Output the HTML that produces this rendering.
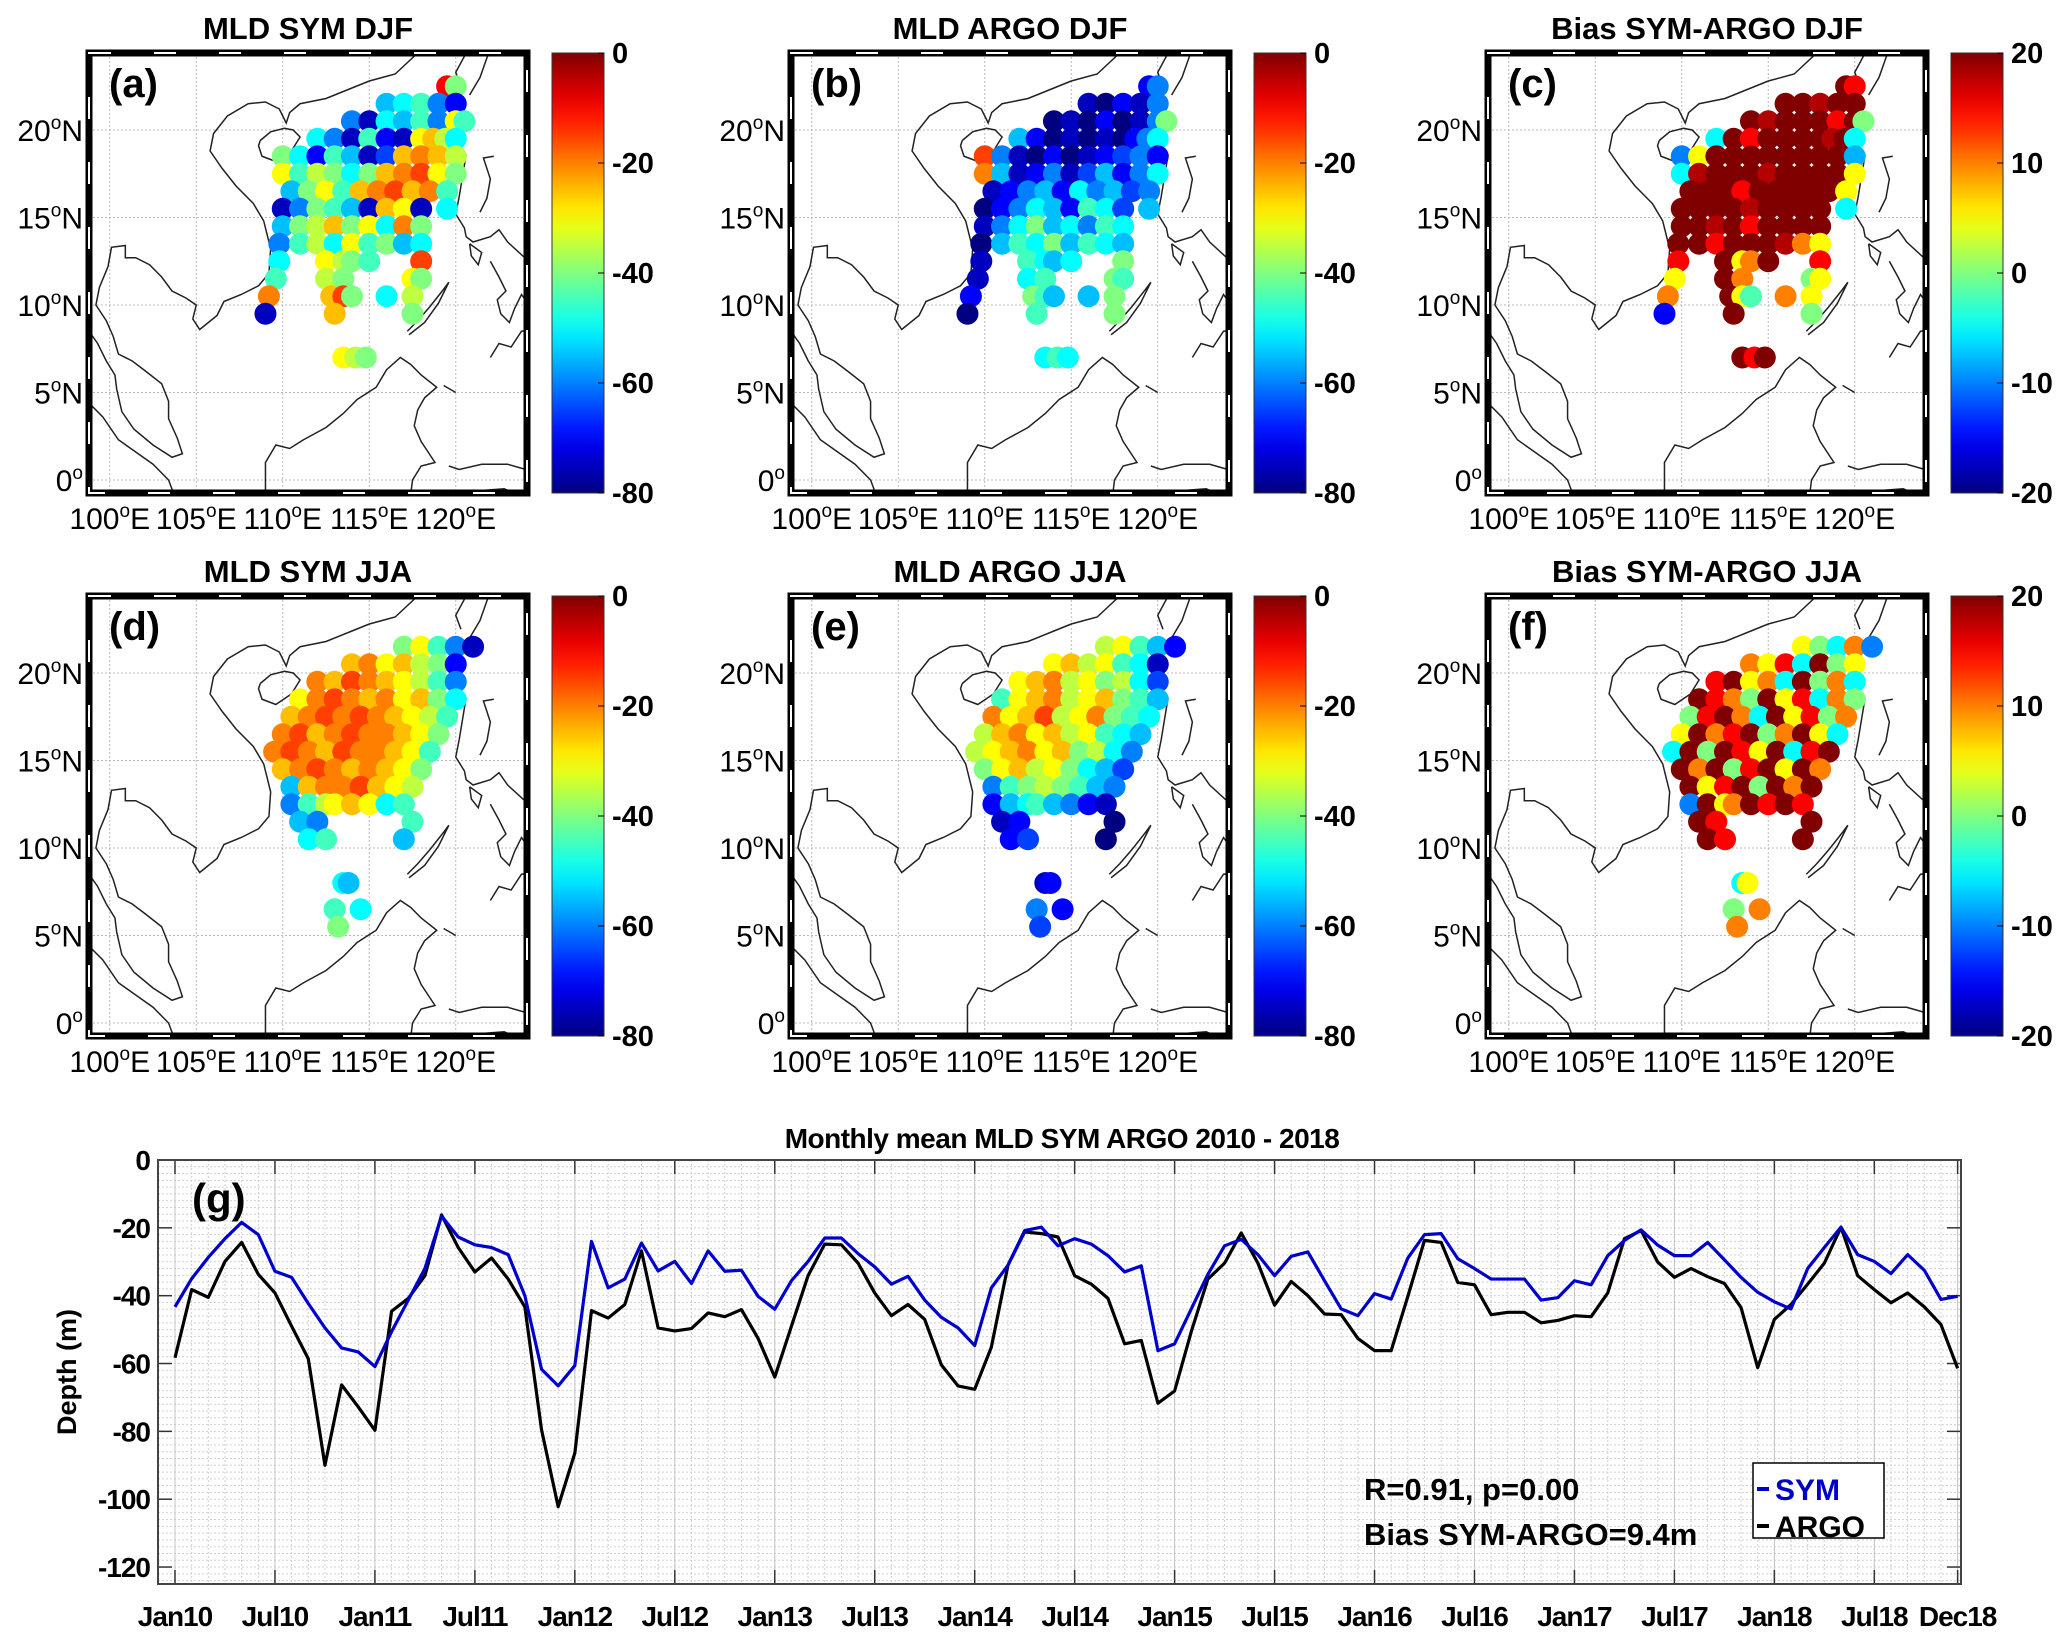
<!DOCTYPE html>
<html><head><meta charset="utf-8"><style>
html,body{margin:0;padding:0;background:#fff;}
svg{display:block;font-family:"Liberation Sans",Arial,sans-serif;}
</style></head><body>
<svg id="fig" xmlns="http://www.w3.org/2000/svg" width="2067" height="1646" viewBox="0 0 2067 1646">
<rect width="2067" height="1646" fill="#fff"/>
<g id="maps"></g>
<g id="ts"></g>
</svg>
<script>
// ---------- time series data ----------
const months = ["Jan10","Jul10","Jan11","Jul11","Jan12","Jul12","Jan13","Jul13","Jan14","Jul14","Jan15","Jul15","Jan16","Jul16","Jan17","Jul17","Jan18","Jul18","Dec18"];
const monthIdx = [0,6,12,18,24,30,36,42,48,54,60,66,72,78,84,90,96,102,107];
const yTicks = [0,-20,-40,-60,-80,-100,-120];
const symSeries = [-43.3,-35,-28.7,-23.2,-18.4,-22,-32.8,-34.6,-42.3,-49.5,-55.4,-56.6,-60.9,-50.6,-41.3,-32,-16.5,-22.7,-25,-25.8,-27.9,-40,-61.7,-66.6,-60.6,-24,-37.7,-35.1,-24.5,-32.7,-29.9,-36.4,-26.8,-32.8,-32.5,-40.2,-44,-35.6,-29.9,-23,-23,-27.6,-31.5,-36.6,-34.3,-41.3,-46.4,-49.5,-54.7,-37.7,-31,-20.8,-19.8,-25.3,-23.2,-24.8,-28.2,-33,-31.2,-56.2,-54.2,-43.9,-33.7,-25.3,-23.4,-27.9,-34.1,-28.4,-27.1,-35.6,-43.9,-45.9,-39.4,-41,-28.9,-22,-21.7,-29.1,-32,-35.1,-35.1,-35.1,-41.3,-40.6,-35.6,-36.8,-28.2,-23.7,-20.6,-25.1,-28.2,-28.2,-24.3,-29.4,-34.6,-39,-41.8,-43.9,-32,-25.8,-19.8,-27.9,-29.9,-33.5,-27.9,-32.5,-41.1,-40.2];
const argoSeries = [-58.3,-38.2,-40.5,-29.9,-24.3,-33.7,-39.2,-49,-58.6,-90,-66.3,-72.8,-79.7,-44.6,-40.8,-34.1,-16.2,-25.8,-33,-28.9,-35.1,-43.3,-79.5,-102.2,-86.4,-44.4,-46.6,-42.6,-26.8,-49.5,-50.4,-49.7,-45.1,-46.2,-44.1,-52.6,-64,-49,-34.1,-24.8,-25,-30.4,-39.2,-45.9,-42.6,-47,-60.4,-66.6,-67.6,-55.2,-31,-21.2,-21.7,-22.7,-34.1,-36.6,-40.8,-54.2,-53.2,-71.7,-68.1,-50.6,-35.1,-30.4,-21.5,-30.4,-42.8,-35.8,-40,-45.4,-45.6,-52.6,-56.2,-56.2,-40.2,-23.7,-24.3,-36.1,-36.8,-45.6,-44.9,-44.9,-48,-47.3,-45.9,-46.2,-39.2,-23.2,-20.8,-30.1,-34.6,-32,-34.4,-36.4,-43.5,-61.2,-47,-42.6,-36.6,-30.4,-19.8,-34.1,-38.2,-42.1,-39.2,-43.3,-48.5,-61.4];

// ---------- map scatter data ----------
const djfLat = [22.5,21.5,20.5,19.5,18.5,17.5,16.5,15.5,14.5,13.5,12.5,11.5,10.5,9.5,7];
const djfLon = [
[119.5,120],[116,117,118,119,120],[114,115,116,117,118,119,120,120.5],
[112,113,114,115,116,117,118,118.7,119.4,120],[110,111,112,113,114,115,116,117,118,119,120],
[110,111,112,113,114,115,116,117,118,119,120],[110.5,111.5,112.5,113.5,114.5,115.5,116.5,117.5,118.5,119.5],
[110,111,112,113,114,115,116,117,118,119.5],[110,111,112,113,114,115,116,117,118],
[109.8,111,112,113,114,115,116,117,118],[109.8,112.5,113.5,114,115,118],[109.6,112.5,113.5,117.5,118],
[109.2,112.8,113.5,114,116,117.5],[109,113,117.5],[113.5,114.2,114.8]];
const symDJF = [-10,-40,-55,-50,-45,-60,-70,-60,-75,-50,-55,-45,-60,-30,-45,-50,-60,-75,-45,-70,-75,-30,-25,-35,-50,-40,-50,-70,-45,-55,-75,-65,-25,-20,-25,-35,-30,-45,-35,-40,-50,-40,-25,-20,-15,-30,-40,-55,-40,-30,-45,-25,-20,-15,-25,-20,-45,-75,-60,-40,-45,-55,-75,-25,-30,-75,-50,-55,-40,-35,-25,-40,-30,-50,-20,-40,-60,-45,-35,-50,-30,-45,-40,-55,-50,-50,-30,-35,-40,-45,-15,-45,-35,-40,-30,-40,-20,-25,-15,-40,-50,-35,-75,-25,-40,-30,-35,-40];
const argoDJF = [-70,-60,-75,-80,-70,-75,-60,-80,-75,-80,-70,-80,-75,-60,-40,-55,-70,-80,-75,-80,-75,-80,-70,-60,-50,-15,-60,-75,-80,-70,-80,-75,-70,-65,-60,-70,-20,-55,-75,-70,-60,-75,-65,-55,-70,-60,-50,-75,-70,-60,-55,-70,-50,-60,-55,-65,-60,-80,-70,-60,-50,-55,-70,-45,-50,-65,-55,-75,-60,-50,-40,-55,-50,-60,-45,-50,-80,-55,-45,-50,-40,-55,-45,-50,-55,-75,-45,-50,-55,-50,-40,-75,-50,-45,-40,-45,-70,-40,-45,-55,-55,-40,-80,-45,-40,-50,-45,-50];
const biasDJF = [20,15,20,20,18,20,20,20,18,20,20,20,15,20,0,-5,20,15,20,20,20,20,18,20,-5,-10,5,20,20,20,20,20,20,20,20,-8,-5,18,20,20,20,18,20,20,20,20,5,20,20,20,15,20,20,20,20,20,5,20,20,20,20,18,20,20,20,20,-5,20,20,18,20,15,20,20,20,20,20,20,15,20,20,20,18,10,5,15,20,5,10,20,15,5,20,10,0,5,10,20,5,-2,10,5,-15,20,0,20,15,20];
const jjaLat = [21.5,20.5,19.5,18.5,17.5,16.5,15.5,14.5,13.5,12.5,11.5,10.5,8,6.5,5.5];
const jjaLon = [
[117,118,119,120,121],[114,115,116,117,118,119,120],[112,113,114,115,116,117,118,119,120],
[111,112,113,114,115,116,117,118,119,120],[110.5,111.5,112.5,113.5,114.5,115.5,116.5,117.5,118.5,119.5],
[110,111,112,113,114,115,116,117,118,119],[109.5,110.5,111.5,112.5,113.5,114.5,115.5,116.5,117.5,118.5],
[110,111,112,113,114,115,116,117,118],[110.5,111.5,112.5,113.5,114.5,115.5,116.5,117.5],
[110.5,111.5,112.5,113,114,115,116,117],[111,112,117.5],[111.5,112.5,117],[113.5,113.8],[113,114.5],[113.2]];
const symJJA = [-40,-30,-45,-60,-75,-25,-20,-30,-25,-35,-40,-70,-20,-25,-15,-20,-25,-30,-35,-45,-60,-30,-20,-15,-20,-25,-20,-30,-25,-40,-50,-25,-20,-15,-20,-15,-20,-25,-30,-35,-45,-20,-15,-25,-20,-15,-20,-20,-25,-30,-40,-20,-15,-20,-25,-15,-20,-20,-25,-30,-45,-25,-20,-15,-20,-25,-20,-25,-30,-40,-55,-25,-20,-20,-15,-25,-30,-35,-60,-45,-35,-30,-25,-30,-50,-45,-55,-60,-45,-50,-45,-55,-50,-55,-45,-50,-40];
const argoJJA = [-35,-30,-45,-55,-70,-30,-25,-35,-30,-45,-50,-75,-30,-25,-20,-35,-30,-40,-35,-50,-65,-45,-30,-25,-20,-35,-30,-25,-40,-45,-55,-20,-30,-25,-15,-35,-30,-20,-40,-45,-50,-35,-25,-20,-30,-25,-35,-30,-45,-50,-55,-35,-30,-25,-20,-30,-25,-40,-35,-50,-60,-40,-30,-25,-35,-30,-40,-50,-55,-65,-60,-45,-40,-35,-40,-45,-55,-60,-70,-55,-50,-45,-55,-60,-70,-75,-75,-70,-80,-70,-65,-80,-75,-70,-60,-70,-65];
const biasJJA = [5,0,-5,10,-10,10,5,15,-5,20,0,5,15,20,5,10,-5,20,0,10,-5,20,15,10,0,20,5,15,-5,10,0,0,15,20,10,-5,20,5,15,0,10,5,20,10,15,20,0,10,20,5,-5,-5,20,0,20,15,5,20,-5,15,20,20,10,20,0,15,20,5,20,10,20,5,15,20,0,20,10,20,-10,20,5,10,20,15,20,15,20,15,20,20,15,20,-5,5,0,10,10];
const mldTicks = [0,-20,-40,-60,-80];
const biasTicks = [20,10,0,-10,-20];
const lonTicks = [100,105,110,115,120];
const latTicks = [0,5,10,15,20];

// coastline approximations (lon,lat)
const coasts = [
 [[117.8,24.4],[116.5,23.2],[115,22.8],[114,22.4],[112.5,21.8],[111,21.5],[110.4,21],[110.2,20.4],[109.8,21.2],[109,21.6],[108,21.5],[106.8,20.8],[106,19.8],[105.8,18.8],[106.5,17.8],[107.3,16.8],[108.3,15.8],[108.9,14.8],[109.3,13.2],[109.2,11.8],[108.6,11.1],[107.6,10.6],[106.6,10.2],[106.2,9.4],[105.2,8.6],[104.8,9.2],[105.0,10.0],[104.4,10.4],[103.6,10.8],[103.0,11.6],[102.3,12.3],[101.5,12.7],[100.9,12.7],[100.9,13.4],[100.1,13.3],[99.9,12.2],[99.4,11.0],[99.2,10.0],[99.8,9.1],[100.2,8.2],[100.5,7.2],[101.3,6.8],[102.1,6.2],[103.0,5.5],[103.4,4.5],[103.4,3.5],[103.9,2.4],[104.2,1.5],[103.6,1.3],[102.5,2.0],[101.4,2.9],[100.7,3.9],[100.4,5.2],[100.3,6.0],[99.8,6.8],[99.3,7.8],[98.8,8.5]],
 [[98.8,4.4],[99.6,3.6],[100.5,2.3],[101.5,1.6],[102.5,0.9],[103.4,0.0],[103.7,-0.8]],
 [[109.0,-0.8],[109.0,1.0],[109.6,2.0],[110.4,1.8],[111.2,2.3],[112.5,3.0],[113.5,3.8],[114.3,4.6],[115.4,5.3],[116.0,6.3],[116.8,7.0],[117.4,6.6],[118.0,6.0],[118.9,5.3],[118.2,4.7],[117.8,4.0],[117.6,3.1],[118.0,2.2],[118.8,1.0],[118.0,0.8],[117.5,0.0],[117.4,-0.8]],
 [[117.3,8.3],[118.2,9.0],[119.0,10.1],[119.6,11.3],[119.3,10.9],[118.5,9.9],[117.8,9.1],[117.2,8.5]],
 [[120.3,22.5],[120.0,23.3],[120.6,24.4]],[[121.9,24.4],[121.4,23.0],[120.8,22.0]],
 [[120.6,18.6],[120.4,17.4],[120.2,16.2],[120.0,15.2],[120.5,14.4],[120.6,13.9],[121.0,13.6],[122.0,13.9],[122.5,14.3],[123.0,13.6],[124.1,12.6],[124.1,11.6],[124.5,11.2],[125,10.8]],
 [[122.2,18.5],[121.6,18.4],[122.0,17.2],[121.8,16.1],[121.4,15.3]],
 [[120.8,13.5],[121.5,13.0],[121.3,12.3],[120.9,12.8],[120.8,13.5]],
 [[122,12.5],[122.5,11.6],[122.9,10.8],[122.4,10.3],[122.6,9.5],[123.1,9.0],[123.4,9.8],[123.8,10.6],[124.1,10.2]],
 [[122.0,7.0],[122.5,7.8],[123.2,7.6],[123.8,8.5],[124.7,8.6],[125,8.9]],
 [[120.0,5.0],[119.3,5.4]],[[119.6,0.8],[120.2,0.6],[121.5,0.9],[123,0.9],[124.4,0.5],[125,1.0]],
 [[125,-0.5],[123.5,-0.8],[122.8,-0.5],[121.5,-0.6],[120.5,-0.8]]
];
const hainan = [[108.7,19.4],[109.3,19.9],[110.1,20.1],[110.6,20.0],[111.0,19.6],[110.5,18.8],[109.6,18.2],[108.8,18.5],[108.6,19.1],[108.7,19.4]];

const NS="http://www.w3.org/2000/svg";
function el(tag, attrs, parent){const e=document.createElementNS(NS,tag);for(const k in attrs)e.setAttribute(k,attrs[k]);if(parent)parent.appendChild(e);return e;}
function jet(t){t=Math.max(0,Math.min(1,t));const c=v=>Math.round(255*Math.max(0,Math.min(1,v)));
 return `rgb(${c(1.5-Math.abs(4*t-3))},${c(1.5-Math.abs(4*t-2))},${c(1.5-Math.abs(4*t-1))})`;}

const mapsG=document.getElementById('maps');
const defs=el('defs',{},document.getElementById('fig'));
const lg=el('linearGradient',{id:'jetgrad',x1:0,y1:1,x2:0,y2:0},defs);
for(let i=0;i<=20;i++){el('stop',{offset:(i/20),'stop-color':jet(i/20)},lg);}

const panels=[
 {id:'a',title:'MLD SYM DJF',x0:89,y0:53,lat:djfLat,lon:djfLon,val:symDJF,lo:-80,hi:0,ticks:mldTicks},
 {id:'b',title:'MLD ARGO DJF',x0:791,y0:53,lat:djfLat,lon:djfLon,val:argoDJF,lo:-80,hi:0,ticks:mldTicks},
 {id:'c',title:'Bias SYM-ARGO DJF',x0:1488,y0:53,lat:djfLat,lon:djfLon,val:biasDJF,lo:-20,hi:20,ticks:biasTicks},
 {id:'d',title:'MLD SYM JJA',x0:89,y0:596,lat:jjaLat,lon:jjaLon,val:symJJA,lo:-80,hi:0,ticks:mldTicks},
 {id:'e',title:'MLD ARGO JJA',x0:791,y0:596,lat:jjaLat,lon:jjaLon,val:argoJJA,lo:-80,hi:0,ticks:mldTicks},
 {id:'f',title:'Bias SYM-ARGO JJA',x0:1488,y0:596,lat:jjaLat,lon:jjaLon,val:biasJJA,lo:-20,hi:20,ticks:biasTicks}
];
const FW=438, FH=440, LON0=98.8, LAT1=24.4, KX=17.3, KY=17.5;
panels.forEach(p=>{
 const g=el('g',{},mapsG);
 
 
 const X=lon=>p.x0+(lon-LON0)*KX, Y=lat=>p.y0+(LAT1-lat)*KY;
 const clipId='clip'+p.id;
 const cp=el('clipPath',{id:clipId},defs); el('rect',{x:p.x0,y:p.y0,width:FW,height:FH},cp);
 const inner=el('g',{'clip-path':`url(#${clipId})`},g);
 lonTicks.forEach(l=>el('line',{x1:X(l),x2:X(l),y1:p.y0,y2:p.y0+FH,stroke:'#bbb','stroke-width':1,'stroke-dasharray':'2,2'},inner));
 latTicks.forEach(l=>el('line',{x1:p.x0,x2:p.x0+FW,y1:Y(l),y2:Y(l),stroke:'#bbb','stroke-width':1,'stroke-dasharray':'2,2'},inner));
 coasts.concat([hainan]).forEach(c=>{
  const ln=el('polyline',{points:c.map(q=>X(q[0])+','+Y(q[1])).join(' '),fill:'none',stroke:'#222','stroke-width':1.5},inner);
  
  
 });
 let k=0;
 p.lat.forEach((la,ri)=>{p.lon[ri].forEach(lo=>{
  const v=p.val[k++]; if(v===undefined)return;
  const dot=el('circle',{cx:X(lo),cy:Y(la),r:11,fill:jet((v-p.lo)/(p.hi-p.lo))},inner);
  
  
 });});
 el('rect',{x:p.x0,y:p.y0,width:FW,height:FH,fill:'none',stroke:'#000','stroke-width':7},g);
 el('rect',{x:p.x0,y:p.y0,width:FW,height:FH,fill:'none',stroke:'#fff','stroke-width':2,'stroke-dasharray':'22,43'},g);
 const t=el('text',{x:p.x0+FW/2,y:p.y0-14,'text-anchor':'middle','font-size':31,'font-weight':'bold'},g);t.textContent=p.title;
 
 
 const pl=el('text',{x:p.x0+20,y:p.y0+44,'font-size':40,'font-weight':'bold'},g);pl.textContent='('+p.id+')';
 
 
 lonTicks.forEach(l=>{const tx=el('text',{x:X(l),y:p.y0+FH+36,'text-anchor':'middle','font-size':30},g);
  tx.innerHTML=l+'<tspan dy="-12" font-size="19">o</tspan><tspan dy="12">E</tspan>';
  
  });
 latTicks.forEach(l=>{const tx=el('text',{x:p.x0-6,y:Y(l)+11,'text-anchor':'end','font-size':30},g);
  tx.innerHTML=l===0?'0<tspan dy="-12" font-size="19">o</tspan>':l+'<tspan dy="-12" font-size="19">o</tspan><tspan dy="12">N</tspan>';
  
  });
 const cbx=p.x0+FW+25, cbw=52;
 const cb=el('rect',{x:cbx,y:p.y0,width:cbw,height:FH,fill:'url(#jetgrad)',stroke:'#333','stroke-width':1},g);
 
 
 p.ticks.forEach(v=>{const yy=p.y0+FH*(p.hi-v)/(p.hi-p.lo);
  el('line',{x1:cbx+cbw-6,x2:cbx+cbw,y1:yy,y2:yy,stroke:'#000','stroke-width':1},g);
  const tx=el('text',{x:cbx+cbw+8,y:yy+10,'font-size':29,'font-weight':'bold'},g);tx.textContent=v;
  
  });
});

// ---------- time series ----------
const tsG=document.getElementById('ts');
const PL=158, PR=1961, PT=1160, PB=1584, X0=175, DX=16.66, YK=3.392;
const tx=i=>X0+i*DX, ty=v=>PT-v*YK;
el('rect',{x:PL,y:PT,width:PR-PL,height:PB-PT,fill:'#fff'},tsG);
for(let i=-1;i<=108;i++){const x=tx(i);if(x<PL||x>PR)continue;el('line',{x1:x,x2:x,y1:PT,y2:PB,stroke:'#d0d0d0','stroke-width':1,'stroke-dasharray':'2,2'},tsG);}
for(let v=0;v>=-125;v-=2){el('line',{x1:PL,x2:PR,y1:ty(v),y2:ty(v),stroke:'#d0d0d0','stroke-width':1,'stroke-dasharray':'2,2'},tsG);}
monthIdx.forEach(i=>{el('line',{x1:tx(i),x2:tx(i),y1:PT,y2:PB,stroke:'#c4c4c4','stroke-width':1},tsG);
 el('line',{x1:tx(i),x2:tx(i),y1:PB,y2:PB-14,stroke:'#333','stroke-width':1.5},tsG);el('line',{x1:tx(i),x2:tx(i),y1:PT,y2:PT+14,stroke:'#333','stroke-width':1.5},tsG);});
yTicks.forEach(v=>{el('line',{x1:PL,x2:PL+14,y1:ty(v),y2:ty(v),stroke:'#333','stroke-width':1.5},tsG);el('line',{x1:PR,x2:PR-14,y1:ty(v),y2:ty(v),stroke:'#333','stroke-width':1.5},tsG);
 const t=el('text',{x:PL-8,y:ty(v)+10,'text-anchor':'end','font-size':28,'font-weight':'bold','letter-spacing':'-1'},tsG);t.textContent=v;
 
 });
months.forEach((m,j)=>{const t=el('text',{x:tx(monthIdx[j]),y:PB+42,'text-anchor':'middle','font-size':28,'font-weight':'bold','letter-spacing':'-1'},tsG);t.textContent=m;
 
 });
el('rect',{x:PL,y:PT,width:PR-PL,height:PB-PT,fill:'none',stroke:'#444','stroke-width':2},tsG);
const argoLine=el('polyline',{points:argoSeries.map((v,i)=>tx(i)+','+ty(v)).join(' '),fill:'none',stroke:'#000','stroke-width':3.2,'stroke-linejoin':'round'},tsG);


const symLine=el('polyline',{points:symSeries.map((v,i)=>tx(i)+','+ty(v)).join(' '),fill:'none',stroke:'#0000cc','stroke-width':3.2,'stroke-linejoin':'round'},tsG);


const title=el('text',{x:1062,y:1148,'text-anchor':'middle','font-size':28,'font-weight':'bold','letter-spacing':'-0.5'},tsG);title.textContent='Monthly mean MLD SYM ARGO 2010 - 2018';


const gl=el('text',{x:192,y:1213,'font-size':42,'font-weight':'bold'},tsG);gl.textContent='(g)';


const yl=el('text',{x:0,y:0,'text-anchor':'middle','font-size':27,'font-weight':'bold',transform:'translate(76,1372) rotate(-90)'},tsG);yl.textContent='Depth (m)';


const a1=el('text',{x:1364,y:1500,'font-size':31,'font-weight':'bold'},tsG);a1.textContent='R=0.91, p=0.00';


const a2=el('text',{x:1364,y:1545,'font-size':31,'font-weight':'bold'},tsG);a2.textContent='Bias SYM-ARGO=9.4m';


const leg=el('g',{},tsG);


el('rect',{x:1753,y:1463,width:131,height:75,fill:'#fff',stroke:'#000','stroke-width':1.5},leg);
el('line',{x1:1757,x2:1769,y1:1489,y2:1489,stroke:'#0000cc','stroke-width':4},leg);
el('line',{x1:1757,x2:1769,y1:1526,y2:1526,stroke:'#000','stroke-width':4},leg);
const l1=el('text',{x:1775,y:1500,'font-size':30,'font-weight':'bold',fill:'#0000cc'},leg);l1.textContent='SYM';


const l2=el('text',{x:1775,y:1537,'font-size':30,'font-weight':'bold'},leg);l2.textContent='ARGO';


</script>
</body></html>
